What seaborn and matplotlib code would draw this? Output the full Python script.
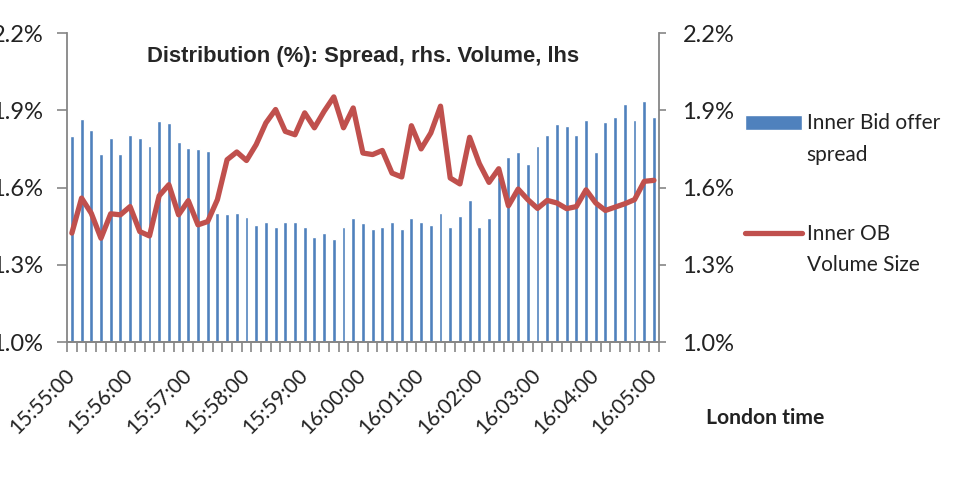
import numpy as np
import pandas as pd
import matplotlib
matplotlib.use("Agg")
import matplotlib.pyplot as plt
import matplotlib.ticker as mticker
from matplotlib.legend_handler import HandlerPatch, HandlerLine2D
from matplotlib.transforms import Affine2D
import seaborn as sns

# Data: one observation every 10 seconds, 15:55:00 - 16:05:00
times = pd.date_range("15:55:00", "16:05:00", freq="10s").strftime("%H:%M:%S").tolist()

spread = [1.80, 1.868, 1.822, 1.731, 1.793, 1.731, 1.805, 1.793, 1.760, 1.857,
          1.851, 1.777, 1.754, 1.750, 1.743, 1.500, 1.497, 1.500, 1.485, 1.456,
          1.467, 1.446, 1.467, 1.467, 1.446, 1.406, 1.423, 1.400, 1.446, 1.480,
          1.462, 1.440, 1.445, 1.467, 1.440, 1.480, 1.467, 1.456, 1.500, 1.445,
          1.490, 1.553, 1.445, 1.480, 1.640, 1.719, 1.737, 1.690, 1.760, 1.805,
          1.846, 1.840, 1.805, 1.861, 1.737, 1.856, 1.874, 1.925, 1.861, 1.935,
          1.874]

volume = [1.423, 1.559, 1.500, 1.403, 1.498, 1.494, 1.526, 1.429, 1.412, 1.568,
          1.611, 1.494, 1.549, 1.455, 1.468, 1.553, 1.708, 1.738, 1.705, 1.767,
          1.851, 1.903, 1.818, 1.805, 1.890, 1.832, 1.896, 1.952, 1.832, 1.909,
          1.734, 1.728, 1.744, 1.656, 1.641, 1.840, 1.750, 1.812, 1.916, 1.637,
          1.614, 1.795, 1.693, 1.620, 1.673, 1.529, 1.594, 1.553, 1.519, 1.550,
          1.540, 1.518, 1.526, 1.591, 1.540, 1.511, 1.524, 1.537, 1.553, 1.624,
          1.628]

y_ticks = [1.0, 1.3, 1.6, 1.9, 2.2]
label_every = 6

df = pd.DataFrame({"time": times, "spread": spread, "volume": volume})
df["pos"] = np.arange(len(df))

sns.set_style("white")
plt.rcParams["font.family"] = ["Lato", "DejaVu Sans"]

BLUE = "#4F81BD"
RED = "#C0504D"
GREY = "#868686"
TXT = "#222222"


def shifted(handler_cls, dy):
    # legend handler that nudges the key up by dy points (first line of label)
    class _Shifted(handler_cls):
        def create_artists(self, legend, orig_handle, xdescent, ydescent,
                           width, height, fontsize, trans):
            return super().create_artists(legend, orig_handle, xdescent, ydescent,
                                          width, height, fontsize,
                                          Affine2D().translate(0, dy) + trans)
    return _Shifted()


fig = plt.figure(figsize=(9.63, 4.79), dpi=100)
ax = fig.add_axes([0.0696, 0.286, 0.6145, 0.645])

sns.barplot(data=df, x="time", y="spread", color=BLUE, saturation=1,
            width=0.4, ax=ax)

ax2 = ax.twinx()
sns.lineplot(data=df, x="pos", y="volume", color=RED, linewidth=3.8, ax=ax2)

for a in (ax, ax2):
    a.set_ylim(1.0, 2.2)
    a.set_yticks(y_ticks)
    a.yaxis.set_major_formatter(mticker.FormatStrFormatter("%.1f%%"))
    a.set_xlim(-0.5, len(df) - 0.5)
    a.set_xlabel("")
    a.set_ylabel("")
    for s in a.spines.values():
        s.set_color(GREY)
        s.set_linewidth(1.3)
    a.spines["top"].set_visible(False)

ax2.spines["left"].set_visible(False)
ax.spines["right"].set_visible(False)

# x ticks: labels every minute, tick marks between categories
ax.set_xticks(df["pos"][::label_every])
ax.set_xticklabels(df["time"][::label_every], rotation=45, ha="right",
                   va="center", rotation_mode="anchor", fontsize=15, color=TXT)
ax.set_xticks(np.arange(-0.5, len(df), 1), minor=True)
ax.tick_params(axis="x", which="major", length=0, pad=22)
ax.tick_params(axis="x", which="minor", length=7, width=1.2, color=GREY, bottom=True)

ax.tick_params(axis="y", left=True, length=7, width=1.2, color=GREY, pad=10,
               labelsize=17, labelcolor=TXT)
ax2.tick_params(axis="y", right=True, length=5, width=1.2, color=GREY, pad=12,
                labelsize=17, labelcolor=TXT)

# legend, key aligned with the first line of each label
bar_handle = ax.patches[0]
line_handle = ax2.lines[0]
leg = fig.legend([bar_handle, line_handle],
                 ["Inner Bid offer\nspread", "Inner OB\nVolume Size"],
                 loc="upper left", bbox_to_anchor=(0.763, 0.785),
                 frameon=False, fontsize=15, handlelength=2.75, handleheight=0.72,
                 handletextpad=0.2, labelspacing=2.85, borderpad=0,
                 handler_map={bar_handle: shifted(HandlerPatch, 12.5),
                              line_handle: shifted(HandlerLine2D, 12.5)})
for t in leg.get_texts():
    t.set_linespacing(1.7)
    t.set_color(TXT)

ax.text(0.5, 0.925, "Distribution (%): Spread, rhs. Volume, lhs",
        transform=ax.transAxes, ha="center", va="center",
        family="Liberation Sans", weight="bold", fontsize=15.8)

fig.text(0.795, 0.128, "London time", ha="center", va="center",
         weight="bold", fontsize=15.2, color=TXT)

fig.savefig("out.png", dpi=100)
